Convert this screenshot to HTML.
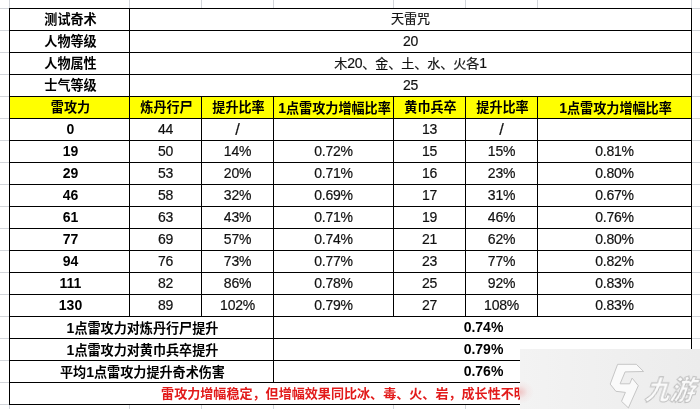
<!DOCTYPE html>
<html lang="zh"><head><meta charset="utf-8"><title>天雷咒</title>
<style>
html,body{margin:0;padding:0;}
body{width:700px;height:409px;position:relative;overflow:hidden;background:#fff;
font-family:"Liberation Sans","Noto Sans CJK SC",sans-serif;color:#000;}
.g{position:absolute;background:#d2d5da;}
.l{position:absolute;background:#000;}
.y{position:absolute;background:#ff0;}
.c{position:absolute;height:22px;line-height:22px;text-align:center;white-space:nowrap;font-size:14px;letter-spacing:-0.25px;color:#111;margin-top:-1px;-webkit-text-stroke:0.2px #111;}
.b{font-weight:bold;font-size:13.1px;color:#000;margin-top:-0.5px;padding-left:1px;letter-spacing:0;-webkit-text-stroke:0;}
.n{font-size:14px;margin-top:-1px;}
.k{font-size:13px;letter-spacing:0;margin-top:-1px;}
.e{font-size:14px;}
.d{font-size:14px;letter-spacing:-0.25px;}
.s{font-size:16.5px;letter-spacing:0;}
.r{color:#e21b1b;font-size:13.07px;padding-left:0;}
</style></head><body>
<div id="sheet" style="position:absolute;left:0;top:0;width:700px;height:409px;will-change:transform">

<div class="g" style="left:9px;top:0;width:1px;height:409px"></div>
<div class="g" style="left:129px;top:0;width:1px;height:409px"></div>
<div class="g" style="left:201px;top:0;width:1px;height:409px"></div>
<div class="g" style="left:273px;top:0;width:1px;height:409px"></div>
<div class="g" style="left:393px;top:0;width:1px;height:409px"></div>
<div class="g" style="left:465px;top:0;width:1px;height:409px"></div>
<div class="g" style="left:537px;top:0;width:1px;height:409px"></div>
<div class="g" style="left:691px;top:0;width:1px;height:409px"></div>
<div class="g" style="left:0;top:8px;width:700px;height:1px"></div>
<div class="g" style="left:0;top:30px;width:700px;height:1px"></div>
<div class="g" style="left:0;top:52px;width:700px;height:1px"></div>
<div class="g" style="left:0;top:74px;width:700px;height:1px"></div>
<div class="g" style="left:0;top:96px;width:700px;height:1px"></div>
<div class="g" style="left:0;top:118px;width:700px;height:1px"></div>
<div class="g" style="left:0;top:140px;width:700px;height:1px"></div>
<div class="g" style="left:0;top:162px;width:700px;height:1px"></div>
<div class="g" style="left:0;top:184px;width:700px;height:1px"></div>
<div class="g" style="left:0;top:206px;width:700px;height:1px"></div>
<div class="g" style="left:0;top:228px;width:700px;height:1px"></div>
<div class="g" style="left:0;top:250px;width:700px;height:1px"></div>
<div class="g" style="left:0;top:272px;width:700px;height:1px"></div>
<div class="g" style="left:0;top:294px;width:700px;height:1px"></div>
<div class="g" style="left:0;top:316px;width:700px;height:1px"></div>
<div class="g" style="left:0;top:338px;width:700px;height:1px"></div>
<div class="g" style="left:0;top:360px;width:700px;height:1px"></div>
<div class="g" style="left:0;top:382px;width:700px;height:1px"></div>
<div class="g" style="left:0;top:404px;width:700px;height:1px"></div>
<div style="position:absolute;left:9px;top:8px;width:683px;height:397px;background:#fff"></div>
<div class="y" style="left:9px;top:96px;width:682px;height:22px"></div>
<div class="l" style="left:9px;top:8px;width:683px;height:1px"></div>
<div class="l" style="left:9px;top:30px;width:683px;height:1px"></div>
<div class="l" style="left:9px;top:52px;width:683px;height:1px"></div>
<div class="l" style="left:9px;top:74px;width:683px;height:1px"></div>
<div class="l" style="left:9px;top:96px;width:683px;height:1px"></div>
<div class="l" style="left:9px;top:118px;width:683px;height:1px"></div>
<div class="l" style="left:9px;top:140px;width:683px;height:1px"></div>
<div class="l" style="left:9px;top:162px;width:683px;height:1px"></div>
<div class="l" style="left:9px;top:184px;width:683px;height:1px"></div>
<div class="l" style="left:9px;top:206px;width:683px;height:1px"></div>
<div class="l" style="left:9px;top:228px;width:683px;height:1px"></div>
<div class="l" style="left:9px;top:250px;width:683px;height:1px"></div>
<div class="l" style="left:9px;top:272px;width:683px;height:1px"></div>
<div class="l" style="left:9px;top:294px;width:683px;height:1px"></div>
<div class="l" style="left:9px;top:316px;width:683px;height:1px"></div>
<div class="l" style="left:9px;top:338px;width:683px;height:1px"></div>
<div class="l" style="left:9px;top:360px;width:683px;height:1px"></div>
<div class="l" style="left:9px;top:382px;width:683px;height:1px"></div>
<div class="l" style="left:9px;top:404px;width:683px;height:1px"></div>
<div class="l" style="left:9px;top:8px;width:1px;height:397px"></div>
<div class="l" style="left:691px;top:8px;width:1px;height:397px"></div>
<div class="l" style="left:129px;top:8px;width:1px;height:309px"></div>
<div class="l" style="left:201px;top:96px;width:1px;height:221px"></div>
<div class="l" style="left:273px;top:96px;width:1px;height:221px"></div>
<div class="l" style="left:393px;top:96px;width:1px;height:221px"></div>
<div class="l" style="left:465px;top:96px;width:1px;height:221px"></div>
<div class="l" style="left:537px;top:96px;width:1px;height:221px"></div>
<div class="l" style="left:273px;top:316px;width:1px;height:67px"></div>
<div class="c b" style="left:10px;top:9px;width:119px">测试奇术</div>
<div class="c k" style="left:130px;top:9px;width:561px">天雷咒</div>
<div class="c b" style="left:10px;top:31px;width:119px">人物等级</div>
<div class="c " style="left:130px;top:31px;width:561px">20</div>
<div class="c b" style="left:10px;top:53px;width:119px">人物属性</div>
<div class="c k" style="left:130px;top:53px;width:561px">木<span class="d">20</span>、金、土、水、火各<span class="d">1</span></div>
<div class="c b" style="left:10px;top:75px;width:119px">士气等级</div>
<div class="c " style="left:130px;top:75px;width:561px">25</div>
<div class="c b" style="left:10px;top:97px;width:119px">雷攻力</div>
<div class="c b" style="left:130px;top:97px;width:71px">炼丹行尸</div>
<div class="c b" style="left:202px;top:97px;width:71px">提升比率</div>
<div class="c b" style="left:274px;top:97px;width:119px"><span class="e">1</span>点雷攻力增幅比率</div>
<div class="c b" style="left:394px;top:97px;width:71px">黄巾兵卒</div>
<div class="c b" style="left:466px;top:97px;width:71px">提升比率</div>
<div class="c b" style="left:538px;top:97px;width:153px"><span class="e">1</span>点雷攻力增幅比率</div>
<div class="c b n" style="left:10px;top:119px;width:119px">0</div>
<div class="c " style="left:130px;top:119px;width:71px">44</div>
<div class="c s" style="left:202px;top:119px;width:71px">/</div>
<div class="c " style="left:394px;top:119px;width:71px">13</div>
<div class="c s" style="left:466px;top:119px;width:71px">/</div>
<div class="c b n" style="left:10px;top:141px;width:119px">19</div>
<div class="c " style="left:130px;top:141px;width:71px">50</div>
<div class="c " style="left:202px;top:141px;width:71px">14%</div>
<div class="c " style="left:274px;top:141px;width:119px">0.72%</div>
<div class="c " style="left:394px;top:141px;width:71px">15</div>
<div class="c " style="left:466px;top:141px;width:71px">15%</div>
<div class="c " style="left:538px;top:141px;width:153px">0.81%</div>
<div class="c b n" style="left:10px;top:163px;width:119px">29</div>
<div class="c " style="left:130px;top:163px;width:71px">53</div>
<div class="c " style="left:202px;top:163px;width:71px">20%</div>
<div class="c " style="left:274px;top:163px;width:119px">0.71%</div>
<div class="c " style="left:394px;top:163px;width:71px">16</div>
<div class="c " style="left:466px;top:163px;width:71px">23%</div>
<div class="c " style="left:538px;top:163px;width:153px">0.80%</div>
<div class="c b n" style="left:10px;top:185px;width:119px">46</div>
<div class="c " style="left:130px;top:185px;width:71px">58</div>
<div class="c " style="left:202px;top:185px;width:71px">32%</div>
<div class="c " style="left:274px;top:185px;width:119px">0.69%</div>
<div class="c " style="left:394px;top:185px;width:71px">17</div>
<div class="c " style="left:466px;top:185px;width:71px">31%</div>
<div class="c " style="left:538px;top:185px;width:153px">0.67%</div>
<div class="c b n" style="left:10px;top:207px;width:119px">61</div>
<div class="c " style="left:130px;top:207px;width:71px">63</div>
<div class="c " style="left:202px;top:207px;width:71px">43%</div>
<div class="c " style="left:274px;top:207px;width:119px">0.71%</div>
<div class="c " style="left:394px;top:207px;width:71px">19</div>
<div class="c " style="left:466px;top:207px;width:71px">46%</div>
<div class="c " style="left:538px;top:207px;width:153px">0.76%</div>
<div class="c b n" style="left:10px;top:229px;width:119px">77</div>
<div class="c " style="left:130px;top:229px;width:71px">69</div>
<div class="c " style="left:202px;top:229px;width:71px">57%</div>
<div class="c " style="left:274px;top:229px;width:119px">0.74%</div>
<div class="c " style="left:394px;top:229px;width:71px">21</div>
<div class="c " style="left:466px;top:229px;width:71px">62%</div>
<div class="c " style="left:538px;top:229px;width:153px">0.80%</div>
<div class="c b n" style="left:10px;top:251px;width:119px">94</div>
<div class="c " style="left:130px;top:251px;width:71px">76</div>
<div class="c " style="left:202px;top:251px;width:71px">73%</div>
<div class="c " style="left:274px;top:251px;width:119px">0.77%</div>
<div class="c " style="left:394px;top:251px;width:71px">23</div>
<div class="c " style="left:466px;top:251px;width:71px">77%</div>
<div class="c " style="left:538px;top:251px;width:153px">0.82%</div>
<div class="c b n" style="left:10px;top:273px;width:119px">111</div>
<div class="c " style="left:130px;top:273px;width:71px">82</div>
<div class="c " style="left:202px;top:273px;width:71px">86%</div>
<div class="c " style="left:274px;top:273px;width:119px">0.78%</div>
<div class="c " style="left:394px;top:273px;width:71px">25</div>
<div class="c " style="left:466px;top:273px;width:71px">92%</div>
<div class="c " style="left:538px;top:273px;width:153px">0.83%</div>
<div class="c b n" style="left:10px;top:295px;width:119px">130</div>
<div class="c " style="left:130px;top:295px;width:71px">89</div>
<div class="c " style="left:202px;top:295px;width:71px">102%</div>
<div class="c " style="left:274px;top:295px;width:119px">0.79%</div>
<div class="c " style="left:394px;top:295px;width:71px">27</div>
<div class="c " style="left:466px;top:295px;width:71px">108%</div>
<div class="c " style="left:538px;top:295px;width:153px">0.83%</div>
<div class="c b" style="left:10px;top:317px;width:263px"><span class="e">1</span>点雷攻力对炼丹行尸提升</div>
<div class="c b n" style="left:274px;top:317px;width:417px">0.74%</div>
<div class="c b" style="left:10px;top:339px;width:263px"><span class="e">1</span>点雷攻力对黄巾兵卒提升</div>
<div class="c b n" style="left:274px;top:339px;width:417px">0.79%</div>
<div class="c b" style="left:10px;top:361px;width:263px">平均<span class="e">1</span>点雷攻力提升奇术伤害</div>
<div class="c b n" style="left:274px;top:361px;width:417px">0.76%</div>
<div class="c b r" style="left:10px;top:383px;width:681px">雷攻力增幅稳定，但增幅效果同比冰、毒、火、岩，成长性不明显</div>
<div style="position:absolute;left:520px;top:349px;width:180px;height:60px;background:linear-gradient(90deg,#f3f3f3 0%,#f0f0f0 40%,#ececec 100%)"></div>
<div style="position:absolute;left:520px;top:379px;width:16px;height:26px;background:radial-gradient(ellipse 14px 12px at 0% 50%,rgba(236,150,150,.5),rgba(240,200,200,.22) 55%,rgba(242,242,242,0) 100%)"></div>
<svg style="position:absolute;left:600px;top:355px" width="100" height="54" viewBox="600 355 100 54">
<polygon points="617.6,364.3 636.3,364.3 643.6,371.5 625.1,371.9 620.1,383.8 629.7,383.8 632.1,378.1 638.3,385.7 628.4,407.9 621.5,401.3 625.4,392.4 615.9,391.3 610.2,384.1" fill="#fafafa" stroke="#c6c6c6" stroke-width="1" stroke-linejoin="round"/>
<g transform="translate(644.3,400.3) skewX(-18) scale(0.935,1)">
<text x="0" y="0" font-family="'Liberation Sans','Noto Sans CJK SC',sans-serif" font-size="26.5" font-weight="900" fill="#fafafa" stroke="#bcbcbc" stroke-width="1">九游</text>
</g>
</svg>

</div></body></html>
